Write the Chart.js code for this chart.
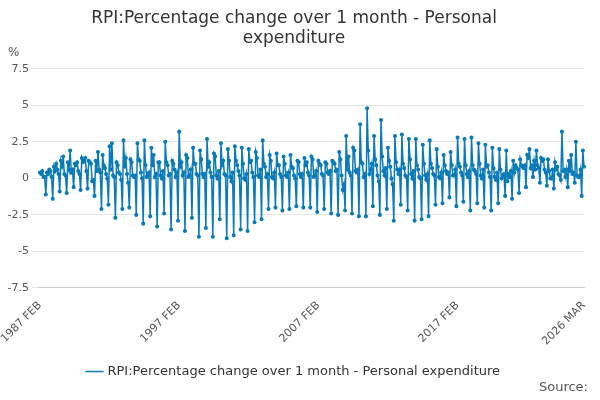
<!DOCTYPE html>
<html><head><meta charset="utf-8">
<script src="https://cdn.jsdelivr.net/npm/chart.js@4"></script>
<style>html,body{margin:0;padding:0;background:#fff;}#w{position:relative;width:600px;height:400px;}
#src{position:absolute;right:12px;bottom:6px;font:13px "DejaVu Sans",sans-serif;color:#555;}</style>
</head><body><div id="w"><canvas id="c" width="600" height="400"></canvas><div id="src">Source:</div></div>
<script>
const monthNames=["JAN","FEB","MAR","APR","MAY","JUN","JUL","AUG","SEP","OCT","NOV","DEC"];
const startYear=1987, startMonth=1, pointCount=470;
const tickLabels=["1987 FEB","1997 FEB","2007 FEB","2017 FEB","2026 MAR"];
const yTicks=[7.5,5,2.5,0,-2.5,-5,-7.5];
const values=[
0.4,0.3,0.5,0.1,0.1,-1.1,0.4,0.3,0.6,0.5,0.1,
-1.4,0.8,0.5,1.0,0.6,0.3,-0.9,1.2,0.8,1.5,0.3,0.2,
-1.0,1.1,0.6,1.9,0.4,0.6,-0.6,1.0,0.9,1.1,0.5,0.3,
-0.8,1.4,1.1,1.2,1.4,0.5,-0.7,1.2,1.1,1.0,-0.2,-0.1,
-1.2,1.2,0.5,1.8,0.6,0.4,-2.1,1.6,0.9,0.7,0.3,0.0,
-1.8,2.2,0.6,2.4,0.2,0.1,-2.7,1.1,0.9,0.4,0.3,-0.1,
-2.1,2.6,0.8,1.4,0.3,-0.3,-2.0,1.3,1.1,0.2,0.1,0.2,
-2.5,2.4,1.3,1.2,0.4,0.0,-3.1,2.6,0.9,0.1,0.2,0.4,
-2.6,2.1,0.9,1.6,0.1,0.3,-3.3,1.1,1.1,0.2,0.0,0.5,
-2.4,2.5,1.1,0.9,0.2,0.3,-3.5,1.2,1.0,0.6,0.1,0.4,
-2.9,3.2,0.8,1.1,0.2,0.4,-3.6,1.6,1.4,0.1,0.2,0.6,
-2.7,2.1,1.0,1.0,0.3,0.2,-4.0,1.9,1.3,0.3,0.1,0.3,
-3.4,2.7,0.8,1.1,0.4,0.1,-4.0,1.7,1.5,0.2,0.0,0.5,
-2.8,2.4,0.9,1.2,0.3,0.2,-4.1,2.0,1.2,0.1,-0.2,0.4,
-3.9,2.2,1.2,0.9,0.5,0.2,-3.5,2.1,1.0,0.0,-0.1,0.3,
-3.6,2.0,1.1,1.2,0.4,0.1,-3.0,1.8,1.4,0.2,0.1,0.6,
-2.8,2.6,1.0,0.8,0.1,0.3,-2.1,1.6,1.2,0.1,0.0,0.4,
-2.0,1.7,0.9,0.9,0.3,0.1,-2.2,1.5,1.0,0.2,0.1,0.4,
-2.1,1.6,0.8,0.7,0.2,0.0,-1.9,1.2,1.1,0.3,0.1,0.3,
-2.0,1.4,0.9,1.1,0.4,0.2,-2.0,1.5,1.3,0.1,0.2,0.5,
-2.3,1.2,1.0,0.9,0.3,0.2,-2.1,1.1,1.0,0.4,0.3,0.5,
-2.4,1.2,1.1,1.0,0.5,0.6,-2.5,1.8,1.3,0.2,-0.8,-0.4,
-2.2,2.9,0.6,1.5,0.4,0.2,-2.4,2.1,1.9,0.5,0.4,0.6,
-2.6,3.7,1.1,1.0,0.1,0.3,-2.6,4.8,1.9,0.3,0.6,1.0,
-1.9,2.9,1.3,0.9,0.2,-0.2,-2.5,4.0,1.5,0.5,0.2,0.7,
-2.1,2.1,1.2,0.8,0.0,-0.4,-2.9,2.9,1.1,0.6,0.3,0.6,
-1.8,3.0,1.0,0.7,0.2,0.1,-2.2,2.7,1.3,0.3,0.0,0.5,
-2.9,2.7,0.9,0.6,0.1,0.0,-2.8,2.3,1.0,0.2,-0.1,0.3,
-2.6,2.6,1.0,0.7,0.3,0.2,-1.8,2.0,0.8,0.1,0.0,0.4,
-1.7,1.6,0.9,0.5,0.3,0.4,-1.3,1.8,0.9,0.2,0.2,0.6,
-1.9,2.8,1.0,0.8,0.4,0.2,-1.6,2.7,0.9,0.3,0.1,0.5,
-2.2,2.8,0.9,0.6,0.5,0.3,-1.7,2.4,1.0,0.2,0.0,0.6,
-2.0,2.3,0.8,0.9,0.4,0.1,-2.2,2.1,0.7,0.1,-0.1,0.4,
-1.7,2.0,0.6,0.0,0.2,0.3,-1.2,1.9,-0.2,0.3,0.1,0.5,
-1.4,1.2,0.4,0.9,0.7,0.6,-1.0,1.3,0.9,0.8,0.7,0.9,
-0.6,1.6,1.4,2.0,0.7,0.9,0.1,1.2,0.6,1.9,0.9,0.7,
-0.3,1.4,1.2,1.3,0.6,0.4,-0.5,1.3,0.5,0.0,0.0,0.6,
-0.7,1.1,0.6,0.8,0.3,0.2,-0.1,3.2,0.5,0.6,0.1,0.6,
-0.6,1.2,0.5,1.6,0.3,0.4,-0.3,2.5,0.2,0.1,0.1,0.6,
-1.2,1.9,0.8
];
const labels=[];
for(let i=0;i<pointCount;i++){const m=startMonth+i;labels.push((startYear+Math.floor(m/12))+" "+monthNames[m%12]);}
const tickIdx=tickLabels.map(t=>labels.indexOf(t));
const F='"DejaVu Sans", sans-serif';
const unitLabel={id:'unit',afterDraw(c){const x=c.ctx;x.save();x.font='12px '+F;x.fillStyle='#555';x.textBaseline='middle';x.fillText('%',8,c.chartArea.top-16);x.restore();}};
new Chart(document.getElementById('c'),{
 type:'line',
 data:{labels,datasets:[{label:'RPI:Percentage change over 1 month - Personal expenditure',data:values,
  borderColor:'#0a7ab8',backgroundColor:'#0a7ab8',borderWidth:1.5,pointRadius:1.3,pointHoverRadius:2,tension:0}]},
 plugins:[unitLabel],
 options:{responsive:false,animation:false,
  layout:{padding:{left:4,right:16,top:0,bottom:12}},
  plugins:{
   title:{display:true,text:['RPI:Percentage change over 1 month - Personal','expenditure'],color:'#333',font:{family:F,size:17,weight:'normal'},padding:{top:8,bottom:20}},
   legend:{position:'bottom',labels:{color:'#333',font:{family:F,size:13},usePointStyle:true,pointStyle:'line',boxWidth:20,padding:14}},
   tooltip:{enabled:false}},
  scales:{
   x:{grid:{display:false},border:{color:'#ccc'},
      ticks:{autoSkip:false,maxRotation:45,minRotation:45,color:'#555',font:{family:F,size:11},
        callback:(v,i)=>tickIdx.includes(i)?labels[i]:null}},
   y:{min:-7.5,max:7.5,afterBuildTicks:a=>{a.ticks=yTicks.map(v=>({value:v}));},
      grid:{color:'#e6e6e6'},border:{display:false},
      ticks:{color:'#555',font:{family:F,size:11},callback:v=>String(v)}}
  }}
});
</script></body></html>
